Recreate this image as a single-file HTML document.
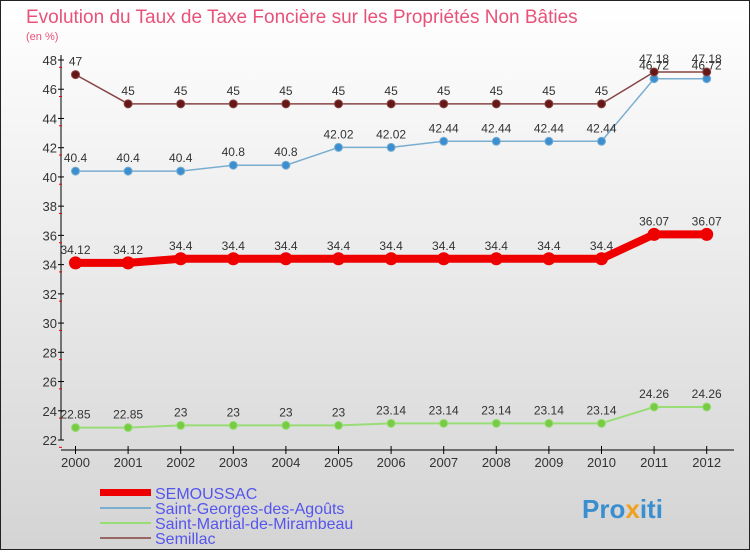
<!DOCTYPE html>
<html><head><meta charset="utf-8"><style>
html,body{margin:0;padding:0}
body{width:750px;height:550px;overflow:hidden;font-family:"Liberation Sans",sans-serif}
</style></head><body>
<svg id="c" width="750" height="550" xmlns="http://www.w3.org/2000/svg">
<defs><linearGradient id="bg" x1="0" y1="0" x2="0" y2="1"><stop offset="0" stop-color="#ffffff"/><stop offset="1" stop-color="#d4d4d4"/></linearGradient></defs>
<rect x="0.5" y="0.5" width="749" height="549" fill="url(#bg)" stroke="#222"/>
<text x="26" y="23" font-size="19" fill="#e8527a">Evolution du Taux de Taxe Foncière sur les Propriétés Non Bâties</text>
<text x="26" y="40" font-size="11" fill="#e8527a">(en %)</text>
<g id="axes"></g><g id="series"></g>
<g>
<rect x="100" y="489" width="51" height="7" fill="#e00"/>
<text x="155" y="499" font-size="16" fill="#5555ee">SEMOUSSAC</text>
<rect x="100" y="507" width="51" height="2" fill="#7aaed0"/>
<text x="155" y="514" font-size="16" fill="#5555ee">Saint-Georges-des-Agoûts</text>
<rect x="100" y="522" width="51" height="2" fill="#99dd77"/>
<text x="155" y="529" font-size="16" fill="#5555ee">Saint-Martial-de-Mirambeau</text>
<rect x="100" y="537" width="51" height="2" fill="#996666"/>
<text x="155" y="544" font-size="16" fill="#5555ee">Semillac</text>
</g>
<text x="582" y="518" font-size="26" font-weight="bold" fill="#3a8fd0">Pro<tspan fill="#f0a020">x</tspan>iti</text>
</svg>
<script>
const years=[2000,2001,2002,2003,2004,2005,2006,2007,2008,2009,2010,2011,2012];
const yTicks=[22,24,26,28,30,32,34,36,38,40,42,44,46,48];
const semoussac=[34.12,34.12,34.4,34.4,34.4,34.4,34.4,34.4,34.4,34.4,34.4,36.07,36.07];
const stGeorges=[40.4,40.4,40.4,40.8,40.8,42.02,42.02,42.44,42.44,42.44,42.44,46.72,46.72];
const stMartial=[22.85,22.85,23,23,23,23,23.14,23.14,23.14,23.14,23.14,24.26,24.26];
const semillac=[47,45,45,45,45,45,45,45,45,45,45,47.18,47.18];
const NS="http://www.w3.org/2000/svg";
const X=i=>75.5+i*52.6, Y=v=>440-(v-22)*380/26;
function mk(p,t,a){const e=document.createElementNS(NS,t);for(const k in a)e.setAttribute(k,a[k]);p.appendChild(e);return e;}
const ax=document.getElementById('axes'), sg=document.getElementById('series');
let l=mk(ax,'line',{x1:61,y1:55,x2:61,y2:440,stroke:'#000'});


l=mk(ax,'line',{x1:61,y1:450,x2:734,y2:450,stroke:'#000'});


yTicks.forEach(v=>{const y=Y(v);
 mk(ax,'line',{x1:58,y1:y,x2:64,y2:y,stroke:'#000'});
 mk(ax,'line',{x1:59,y1:y+7.3,x2:62,y2:y+7.3,stroke:'#e00'});
 const t=mk(ax,'text',{x:57,y:y+5,'font-size':13,fill:'#333','text-anchor':'end'});t.textContent=v;
 
 });
years.forEach((yr,i)=>{const x=X(i);
 mk(ax,'line',{x1:x,y1:446,x2:x,y2:454,stroke:'#000'});
 const t=mk(ax,'text',{x:x,y:467,'font-size':13,fill:'#333','text-anchor':'middle'});t.textContent=yr;
 
 });
function series(d,name,col,dot,w,r,fs){
 const g=mk(sg,'g',{});
 
 
 mk(g,'polyline',{points:d.map((v,i)=>X(i)+','+Y(v)).join(' '),fill:'none',stroke:col,'stroke-width':w,'stroke-linejoin':'round'});
 d.forEach((v,i)=>{const c=mk(g,'circle',{cx:X(i),cy:Y(v),r:r,fill:dot,stroke:col,'stroke-width':1});
  
  
  const t=mk(g,'text',{x:X(i),y:Y(v)-9,'font-size':fs,fill:'#333','text-anchor':'middle'});t.textContent=v;
  
  });
}
series(stMartial,'saint-martial','#99dd77','#77cc44',2,4,12);
series(stGeorges,'saint-georges','#7aaed0','#3b8fd0',1.5,4,12);
series(semillac,'semillac','#884444','#661818',1.5,4,12);
series(semoussac,'semoussac','#ee0000','#ee0000',8,6,12);
</script>
</body></html>
